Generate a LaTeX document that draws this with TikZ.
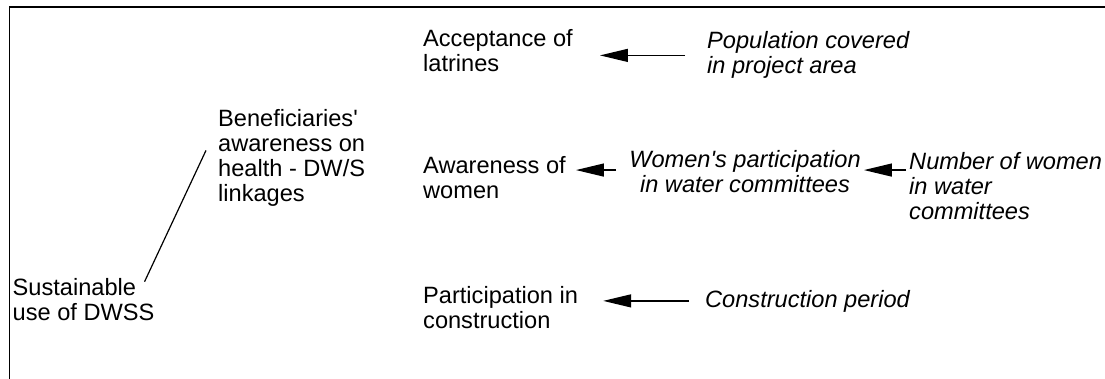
\documentclass[tikz,border=0pt]{standalone}
\usepackage{fontspec}
\setmainfont{Liberation Sans}
\usetikzlibrary{arrows.meta, positioning, calc}

\begin{document}
\begin{tikzpicture}[
		% global settings
		x=1pt, y=1pt,
		font=\fontsize{23.6}{25}\selectfont,
		% styles
		factor/.style={inner sep=0pt, align=left, anchor=base west},
		indicator/.style={factor, font=\fontsize{23.6}{25}\selectfont\itshape},
		arrow/.style={-{Triangle[length=28pt, width=13pt]}, line width=1.3pt},
		link/.style={line width=1.2pt},
		frame/.style={line width=1.6pt}
		]
		
		\useasboundingbox (0,0) rectangle (1105,-379);
		
		% ==========================================
		% Frame (open at bottom and right)
		% ==========================================
		\draw[frame] (9.3,-379) -- (9.3,-7.3) -- (1105,-7.3);
		
		% ==========================================
		% Goal and purpose (left)
		% ==========================================
		% base anchor = baseline of the last line
		\node[factor] (sust) at (12.5,-320) {Sustainable\\use of DWSS};
		\node[factor] (benef) at (218,-202) {Beneficiaries\textquotesingle\\awareness on\\health - DW/S\\linkages};
		
		\draw[link] ([xshift=-10pt, yshift=-4pt]sust.north east) -- ([xshift=-12pt, yshift=8pt]benef.west);
		
		% ==========================================
		% Factors (middle column)
		% ==========================================
		\node[factor] (accept) at (423,-72) {Acceptance of\\latrines};
		\node[factor] (aware) at (423,-199) {Awareness of\\women};
		\node[factor] (partic) at (423,-328) {Participation in\\construction};
		
		% ==========================================
		% Indicators (right, italic)
		% ==========================================
		\node[indicator] (popcov) at (707,-74) {Population covered\\in project area};
		\node[indicator, align=center, anchor=base] (wompart) at (745,-193) {Women\textquotesingle s participation\\in water committees};
		\node[indicator] (numwom) at (909,-220) {Number of women\\in water\\committees};
		\node[indicator] (constr) at (705,-307) {Construction period};
		
		% arrows
		\draw[arrow, shorten <=22pt, shorten >=27pt] (popcov.west) -- (popcov.west -| accept.east);
		\draw[arrow, shorten <=13pt, shorten >=10pt] ([yshift=2pt]wompart.west) -- ([yshift=2pt]wompart.west -| aware.east);
		\draw[arrow, shorten <=3pt, shorten >=3pt] ([yshift=2pt]wompart.east -| numwom.west) -- ([yshift=2pt]wompart.east);
		\draw[arrow, shorten <=16pt, shorten >=25pt] (constr.west) -- (constr.west -| partic.east);
		
\end{tikzpicture}
\end{document}
